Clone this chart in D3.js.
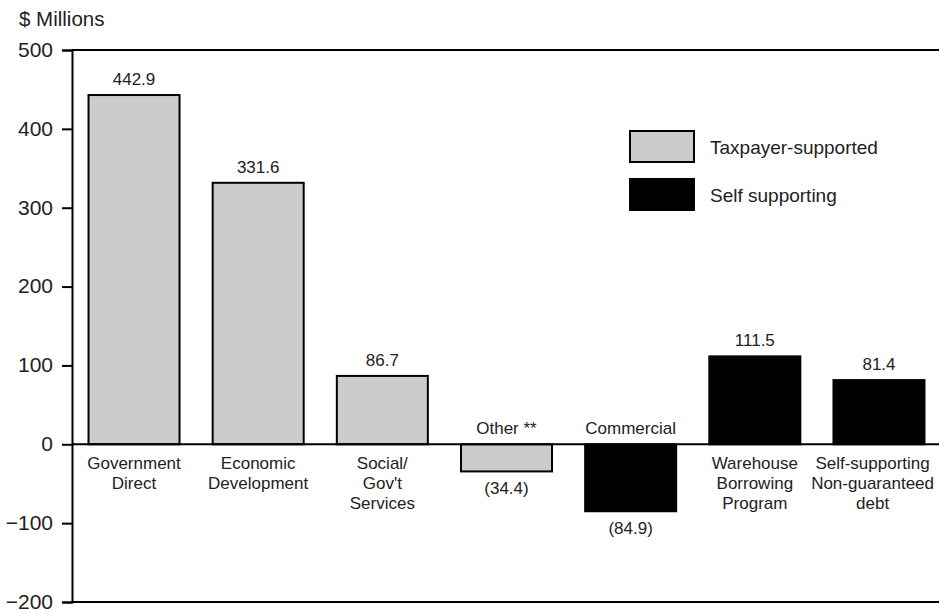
<!DOCTYPE html>
<html>
<head>
<meta charset="utf-8">
<script src="https://cdn.jsdelivr.net/npm/d3@7"></script>
<style>
  html, body { margin: 0; padding: 0; background: #fff; }
  svg { display: block; font-family: "Liberation Sans", Arial, Helvetica, sans-serif; }
</style>
</head>
<body>
<svg id="chart" width="939" height="614"></svg>
<script>
// ---- data ----
const categories = [
  "Government Direct",
  "Economic Development",
  "Social/ Gov't Services",
  "Other **",
  "Commercial",
  "Warehouse Borrowing Program",
  "Self-supporting Non-guaranteed debt"
];
const categoryLines = [
  ["Government", "Direct"],
  ["Economic", "Development"],
  ["Social/", "Gov't", "Services"],
  ["Other **"],
  ["Commercial"],
  ["Warehouse", "Borrowing", "Program"],
  ["Self-supporting", "Non-guaranteed", "debt"]
];
const values = [442.9, 331.6, 86.7, -34.4, -84.9, 111.5, 81.4];
const seriesType = ["tax", "tax", "tax", "tax", "self", "self", "self"];
const seriesNames = ["Taxpayer-supported", "Self supporting"];
const seriesKeys = ["tax", "self"];
const yTicks = [-200, -100, 0, 100, 200, 300, 400, 500];
const yLabel = "$ Millions";

// ---- layout ----
const W = 939, H = 614;
const svg = d3.select("#chart");
const textColor = "#222";

const x = d3.scaleBand()
  .domain(categories)
  .range([72, 941])
  .paddingInner(0.267)
  .paddingOuter(0.133);

const y = d3.scaleLinear().domain([-200, 500]).range([602, 50]);

const color = d3.scaleOrdinal().domain(seriesKeys).range(["#cccccc", "#000000"]);

// frame lines (top, bottom)
svg.append("line").attr("x1", 72).attr("x2", W).attr("y1", y(500)).attr("y2", y(500))
  .attr("stroke", "#000").attr("stroke-width", 2);
svg.append("line").attr("x1", 72).attr("x2", W).attr("y1", y(-200)).attr("y2", y(-200))
  .attr("stroke", "#000").attr("stroke-width", 2);

// bars
svg.append("g").selectAll("rect")
  .data(values)
  .join("rect")
  .attr("x", (d, i) => x(categories[i]))
  .attr("width", x.bandwidth())
  .attr("y", d => y(Math.max(0, d)))
  .attr("height", d => Math.abs(y(d) - y(0)))
  .attr("fill", (d, i) => color(seriesType[i]))
  .attr("stroke", "#000")
  .attr("stroke-width", 2);

// zero line
svg.append("line").attr("x1", 72).attr("x2", W).attr("y1", y(0)).attr("y2", y(0))
  .attr("stroke", "#000").attr("stroke-width", 2);

// y axis
const yAxis = svg.append("g")
  .attr("transform", "translate(72,0)")
  .call(d3.axisLeft(y).tickValues(yTicks).tickSize(10).tickPadding(9).tickFormat(d3.format("d")));
yAxis.select(".domain").attr("stroke", "#000").attr("stroke-width", 2);
yAxis.selectAll(".tick line").attr("stroke", "#000").attr("stroke-width", 2);
yAxis.selectAll(".tick text")
  .attr("font-size", 21)
  .attr("fill", textColor)
  .attr("font-family", "Liberation Sans, Arial, sans-serif")
  .attr("dy", "0.3em");

// y label
svg.append("text").attr("x", 19).attr("y", 26)
  .attr("font-size", 20.5).attr("fill", textColor).text(yLabel);

// value labels
const fmt = v => v < 0 ? "(" + Math.abs(v).toFixed(1) + ")" : v.toFixed(1);
svg.append("g").selectAll("text")
  .data(values)
  .join("text")
  .attr("x", (d, i) => x(categories[i]) + x.bandwidth() / 2)
  .attr("y", d => d >= 0 ? y(d) - 10 : y(d) + 23)
  .attr("text-anchor", "middle")
  .attr("font-size", 17)
  .attr("fill", textColor)
  .text(fmt);

// category labels (kept inside the picture's right edge)
const catG = svg.append("g");
categoryLines.forEach((lines, i) => {
  const neg = values[i] < 0;
  const t = catG.append("text")
    .attr("text-anchor", "middle")
    .attr("font-size", 17)
    .attr("fill", textColor);
  lines.forEach((ln, j) => {
    t.append("tspan")
      .attr("y", neg ? y(0) - 10 - (lines.length - 1 - j) * 20 : y(0) + 25 + j * 20)
      .text(ln);
  });
  let cx = x(categories[i]) + x.bandwidth() / 2;
  let maxW = 0;
  t.selectAll("tspan").each(function () { maxW = Math.max(maxW, this.getComputedTextLength()); });
  if (cx + maxW / 2 > W - 5) cx = W - 5 - maxW / 2;
  t.selectAll("tspan").attr("x", cx);
});

// legend
const leg = svg.append("g");
seriesKeys.forEach((k, i) => {
  const ly = 131 + i * 48;
  leg.append("rect").attr("x", 630).attr("y", ly).attr("width", 64).attr("height", 31)
    .attr("fill", color(k)).attr("stroke", "#000").attr("stroke-width", 2);
  leg.append("text").attr("x", 710).attr("y", ly + 23)
    .attr("font-size", 19).attr("fill", textColor).text(seriesNames[i]);
});
</script>
</body>
</html>
